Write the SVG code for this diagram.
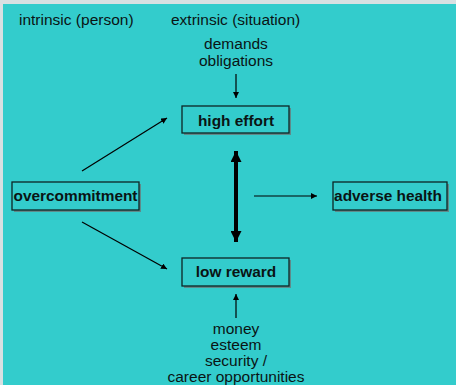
<svg xmlns="http://www.w3.org/2000/svg" width="456" height="385" viewBox="0 0 456 385">
<defs>
<style>
.t{font-family:"Liberation Sans",Arial,sans-serif;font-size:15.5px;fill:#0a1414}
.b{font-family:"Liberation Sans",Arial,sans-serif;font-size:15.4px;font-weight:bold;fill:#0a1414}
.box{fill:#33CCCC;stroke:#0d2626;stroke-width:1.3}
.sh{fill:#5f8a8a}
.ln{stroke:#000;stroke-width:1.2;fill:none}
</style>
<marker id="ah" viewBox="0 0 10 10" refX="10" refY="5" markerWidth="6" markerHeight="6" markerUnits="userSpaceOnUse" orient="auto"><path d="M0,0L10,5L0,10z" fill="#000"/></marker>
<marker id="big" viewBox="0 0 10 10" refX="10" refY="5" markerWidth="11" markerHeight="11" markerUnits="userSpaceOnUse" orient="auto-start-reverse"><path d="M0,0L10,5L0,10z" fill="#000"/></marker>
</defs>
<rect x="0" y="0" width="456" height="385" fill="#D8E0E2"/>
<rect x="3" y="4" width="453" height="381" fill="#33CCCC"/>
<text class="t" x="19" y="25">intrinsic (person)</text>
<text class="t" x="171" y="25">extrinsic (situation)</text>
<text class="t" x="236" y="49" text-anchor="middle">demands</text>
<text class="t" x="236" y="66" text-anchor="middle">obligations</text>
<g id="connectors">
<line class="ln" x1="236" y1="74" x2="236" y2="98" marker-end="url(#ah)"/>
<line class="ln" x1="82" y1="171" x2="167" y2="118" marker-end="url(#ah)"/>
<line class="ln" x1="82" y1="222" x2="167" y2="269" marker-end="url(#ah)"/>
<line class="ln" x1="254" y1="196" x2="317" y2="196" marker-end="url(#ah)"/>
<line class="ln" x1="236" y1="318" x2="236" y2="294" marker-end="url(#ah)"/>
<line x1="236" y1="151" x2="236" y2="242" stroke="#000" stroke-width="4" marker-start="url(#big)" marker-end="url(#big)"/>
</g>
<g id="high-effort">
<rect class="sh" x="184" y="108" width="107" height="27"/>
<rect class="box" x="182" y="106" width="107" height="27"/>
<text class="b" x="236" y="126" text-anchor="middle">high effort</text>
</g>
<g id="overcommitment">
<rect class="sh" x="14" y="184" width="127" height="28"/>
<rect class="box" x="12" y="182" width="127" height="28"/>
<text class="b" x="75.5" y="201" text-anchor="middle" textLength="124">overcommitment</text>
</g>
<g id="adverse-health">
<rect class="sh" x="335" y="184" width="114" height="28"/>
<rect class="box" x="333" y="182" width="114" height="28"/>
<text class="b" x="388" y="201" text-anchor="middle">adverse health</text>
</g>
<g id="low-reward">
<rect class="sh" x="184" y="260" width="107" height="28"/>
<rect class="box" x="182" y="258" width="107" height="28"/>
<text class="b" x="236" y="277" text-anchor="middle">low reward</text>
</g>
<text class="t" x="236" y="334" text-anchor="middle">money</text>
<text class="t" x="236" y="350" text-anchor="middle">esteem</text>
<text class="t" x="236" y="366" text-anchor="middle">security /</text>
<text class="t" x="236" y="382" text-anchor="middle">career opportunities</text>
</svg>
